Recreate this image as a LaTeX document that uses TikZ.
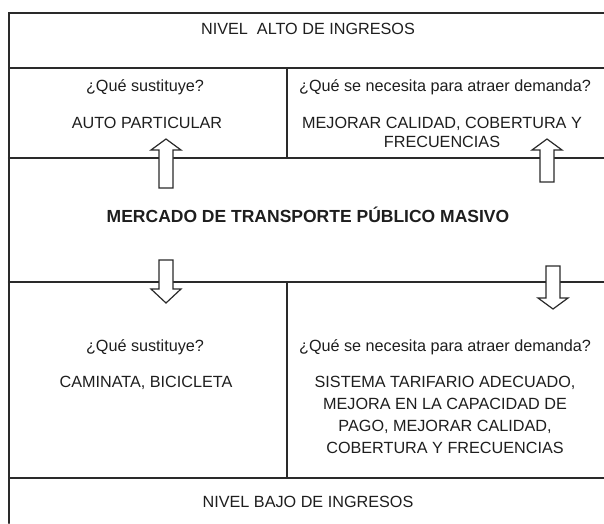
\documentclass[tikz,border=0pt]{standalone}
\usepackage{fontspec}
\setmainfont{Liberation Sans}
\usepackage{tkz-euclide}

\definecolor{linea}{HTML}{2A2A2A}
\definecolor{tinta}{HTML}{1E1E1E}
\tikzset{
  grueso/.style={line width=2.5pt, draw=linea, line join=miter},
  fino/.style={line width=1.2pt, draw=linea},
  flecha/.style={line width=1.2pt, draw=linea, fill=white, line join=miter},
  texto/.style={font=\fontsize{16.2}{19}\selectfont, text=tinta, inner sep=0pt,
    anchor=base, align=center},
}

\begin{document}
\begin{tikzpicture}[x=1pt,y=-1pt]
                    \path[use as bounding box, fill=white] (0,0) rectangle (604,523);
                    \tkzDefPoints{9/13/A,604/13/B,9/523/P,9/68/C,604/68/D,287/68/E,287/158/F,9/158/G,604/158/H}
                    \tkzDefPoints{9/282/I,604/282/J,287/282/K,287/478/L,9/478/M,604/478/N}
                    \tkzDefPoints{166/139/s1,547/139/s2,166/303/b1,553/309/b2}
                    \tkzDrawPolySeg[grueso](P,A,B)
                    \tkzDrawSegments[grueso](G,H I,J)
                    \tkzDrawSegments[fino](C,D M,N E,F K,L)
                    % flechas de bloque
                    \draw[flecha] (s1) -- ++(15,11) -- ++(-8,0) -- ++(0,38) -- ++(-14,0) -- ++(0,-38) -- ++(-8,0) -- cycle;
                    \draw[flecha] (s2) -- ++(15,11) -- ++(-8,0) -- ++(0,32) -- ++(-14,0) -- ++(0,-32) -- ++(-8,0) -- cycle;
                    \draw[flecha] (b1) -- ++(15,-14) -- ++(-8,0) -- ++(0,-29) -- ++(-14,0) -- ++(0,29) -- ++(-8,0) -- cycle;
                    \draw[flecha] (b2) -- ++(15,-11) -- ++(-8,0) -- ++(0,-32) -- ++(-14,0) -- ++(0,32) -- ++(-8,0) -- cycle;
                    \node[texto] (alto) at (308,34) {NIVEL\ \ ALTO DE INGRESOS};
                    \node[texto] (sus1) at (145,91) {¿Qué sustituye?};
                    \node[texto] (auto) at (147,128) {AUTO PARTICULAR};
                    \node[texto] (nec1) at (445,91) {¿Qué se necesita para atraer demanda?};
                    % base = ultima linea
                    \node[texto] (mej1) at (442,147) {MEJORAR CALIDAD, COBERTURA Y\\FRECUENCIAS};
                    \node[texto, font=\bfseries\fontsize{17.5}{20}\selectfont] (merc) at (308,222) {MERCADO DE TRANSPORTE PÚBLICO MASIVO};
                    \node[texto] (sus2) at (145,351) {¿Qué sustituye?};
                    \node[texto] (cami) at (146,387) {CAMINATA, BICICLETA};
                    \node[texto] (nec2) at (445,351) {¿Qué se necesita para atraer demanda?};
                    \node[texto, font=\fontsize{16.2}{22}\selectfont] (sist) at (445,453) {SISTEMA TARIFARIO ADECUADO,\\MEJORA EN LA CAPACIDAD DE\\PAGO, MEJORAR CALIDAD,\\COBERTURA Y FRECUENCIAS};
                    \node[texto] (bajo) at (308,507) {NIVEL BAJO DE INGRESOS};
                \end{tikzpicture}
\end{document}
